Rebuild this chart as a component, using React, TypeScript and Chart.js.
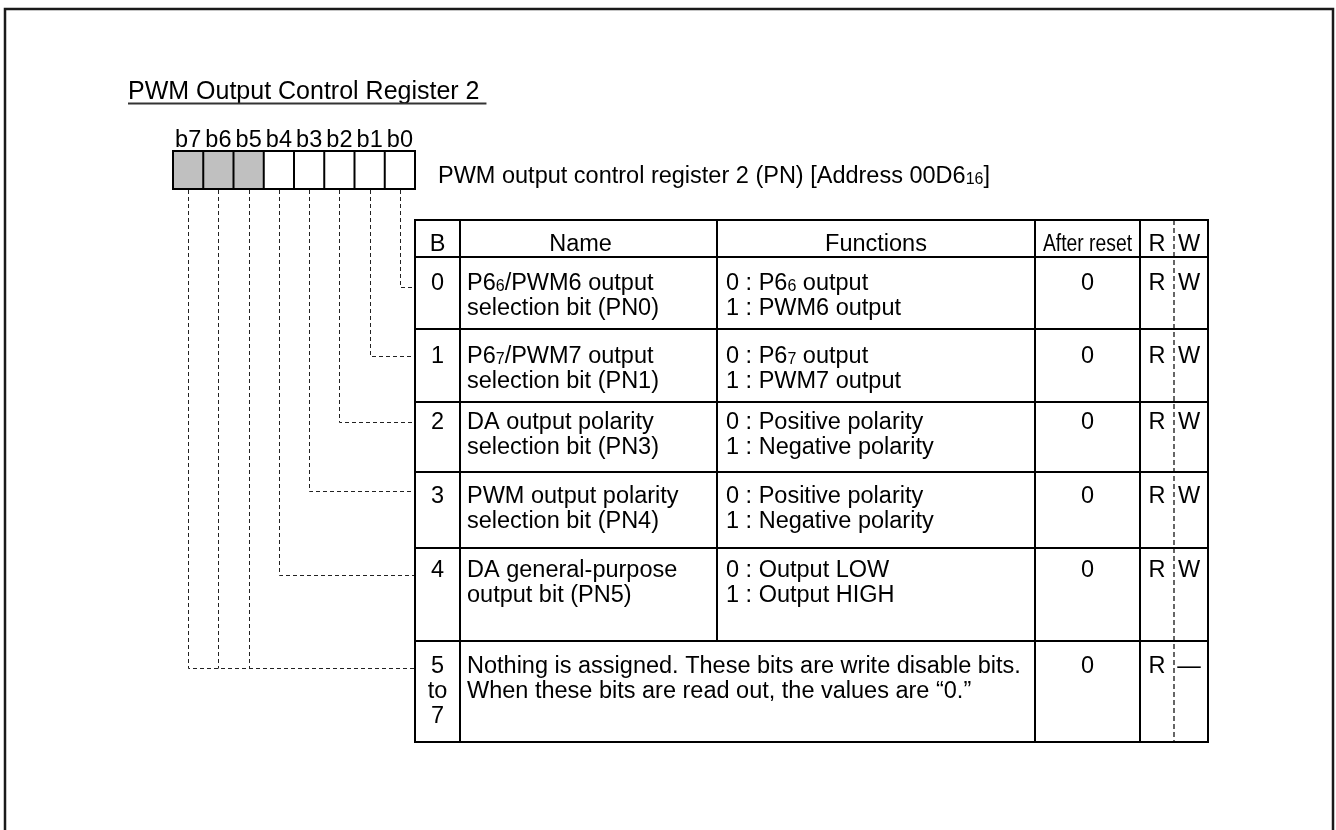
import React, { useEffect, useRef } from "react";
import { Chart, registerables } from "chart.js";

Chart.register(...registerables);

// ---------------- data ----------------
const TITLE = "PWM Output Control Register 2 ";
const REGISTER_CAPTION = "PWM output control register 2 (PN) [Address 00D6{16}]";
const BIT_LABELS = ["b7", "b6", "b5", "b4", "b3", "b2", "b1", "b0"];
const BIT_RESERVED = [true, true, true, false, false, false, false, false];
// table row that each bit's leader line points to
const BIT_ROW = [5, 5, 5, 4, 3, 2, 1, 0];
const HEADERS = ["B", "Name", "Functions", "After reset", "R", "W"];
const ROW_BITS = ["0", "1", "2", "3", "4", "5\nto\n7"];
const ROW_NAMES = [
  "P6{6}/PWM6 output\nselection bit (PN0)",
  "P6{7}/PWM7 output\nselection bit (PN1)",
  "DA output polarity\nselection bit (PN3)",
  "PWM output polarity\nselection bit (PN4)",
  "DA general-purpose\noutput bit (PN5)",
  "Nothing is assigned. These bits are write disable bits.\nWhen these bits are read out, the values are \u201c0.\u201d",
];
const ROW_FUNCTIONS = [
  "0 : P6{6} output\n1 : PWM6 output",
  "0 : P6{7} output\n1 : PWM7 output",
  "0 : Positive polarity\n1 : Negative polarity",
  "0 : Positive polarity\n1 : Negative polarity",
  "0 : Output LOW\n1 : Output HIGH",
  "",
];
const ROW_RESET = ["0", "0", "0", "0", "0", "0"];
const ROW_READ = ["R", "R", "R", "R", "R", "R"];
const ROW_WRITE = ["W", "W", "W", "W", "W", "\u2014"];

// ---------------- layout (page coordinates) ----------------
const W = 1336;
const H = 830;
const FONT = "'Liberation Sans', Arial, Helvetica, sans-serif";
const FRAME = { l: 5, t: 9, r: 1333, b: 900 };
const TITLE_POS = { x: 128, y: 99, size: 25, underline: 103.5 };
const BOX = { l: 173, t: 151, w: 30.25, h: 38 };
const BIT_LABEL_Y = 147;
const CAPTION_POS = { x: 438, y: 183 };
const COL_EDGES = [415, 460, 717, 1035, 1140, 1208];
const RW_SPLIT = 1174;
const ROW_EDGES = [220, 257, 329, 402, 472, 548, 641, 742];
const TEXT_SIZE = 23.5;
const LINE_H = 25;
const FIRST_BASE = [33, 34, 27, 31, 29, 32];
const LEADER_OFF = [30, 27, 20, 19, 27, 27];
const HEADER_BASE = 251;

const snap = (v: number) => Math.round(v) + 0.5;
const boxCenter = (i: number) => BOX.l + BOX.w * (i + 0.5);
const leaderY = (row: number) => ROW_EDGES[row + 1] + LEADER_OFF[row];

function leaderDatasets() {
  const sets: any[] = [];
  BIT_LABELS.forEach((_, i) => {
    const row = BIT_ROW[i];
    const x = snap(boxCenter(i));
    const y = snap(leaderY(row));
    const firstOfRow = BIT_ROW.indexOf(row) === i;
    const pts = [
      { x, y: BOX.t + BOX.h + 1 },
      { x, y },
    ];
    if (firstOfRow) pts.push({ x: COL_EDGES[0], y });
    sets.push({
      label: BIT_LABELS[i],
      data: pts,
      showLine: true,
      borderColor: "#222",
      borderWidth: 1,
      borderDash: [4, 3],
      pointRadius: 0,
      fill: false,
      tension: 0,
    });
  });
  return sets;
}

function drawRich(
  ctx: CanvasRenderingContext2D,
  text: string,
  x: number,
  y: number,
  size: number,
  align: "left" | "center"
) {
  const parts = text
    .split(/(\{[^}]*\})/)
    .filter((p) => p.length > 0)
    .map((p) => (p.startsWith("{") ? { t: p.slice(1, -1), sub: true } : { t: p, sub: false }));
  const fontFor = (sub: boolean) => `${sub ? Math.round(size * 0.68) : size}px ${FONT}`;
  let total = 0;
  parts.forEach((p) => {
    ctx.font = fontFor(p.sub);
    total += ctx.measureText(p.t).width;
  });
  let cx = align === "center" ? x - total / 2 : x;
  ctx.textAlign = "left";
  parts.forEach((p) => {
    ctx.font = fontFor(p.sub);
    ctx.fillText(p.t, cx, y + (p.sub ? 1 : 0));
    cx += ctx.measureText(p.t).width;
  });
}

const tablePlugin = {
  id: "registerTable",
  afterDatasetsDraw(chart: any) {
    const ctx: CanvasRenderingContext2D = chart.ctx;
    const xs = chart.scales.x;
    const ys = chart.scales.y;
    const px = (v: number) => xs.getPixelForValue(v);
    const py = (v: number) => ys.getPixelForValue(v);
    const line = (x1: number, y1: number, x2: number, y2: number) => {
      ctx.beginPath();
      ctx.moveTo(px(x1), py(y1));
      ctx.lineTo(px(x2), py(y2));
      ctx.stroke();
    };
    ctx.save();
    ctx.fillStyle = "#000";
    ctx.textBaseline = "alphabetic";

    // outer frame
    ctx.strokeStyle = "#1a1a1a";
    ctx.lineWidth = 2.5;
    ctx.beginPath();
    ctx.moveTo(px(FRAME.l), py(FRAME.b));
    ctx.lineTo(px(FRAME.l), py(FRAME.t));
    ctx.lineTo(px(FRAME.r), py(FRAME.t));
    ctx.lineTo(px(FRAME.r), py(FRAME.b));
    ctx.stroke();

    // title
    ctx.font = `${TITLE_POS.size}px ${FONT}`;
    ctx.textAlign = "left";
    ctx.fillText(TITLE, px(TITLE_POS.x), py(TITLE_POS.y));
    const tw = ctx.measureText(TITLE).width;
    ctx.strokeStyle = "#333";
    ctx.lineWidth = 2;
    line(TITLE_POS.x, TITLE_POS.underline, TITLE_POS.x + tw, TITLE_POS.underline);

    // bit boxes + labels
    BIT_LABELS.forEach((lab, i) => {
      const x0 = BOX.l + BOX.w * i;
      if (BIT_RESERVED[i]) {
        ctx.fillStyle = "#c0c0c0";
        ctx.fillRect(px(x0), py(BOX.t), px(x0 + BOX.w) - px(x0), py(BOX.t + BOX.h) - py(BOX.t));
      }
      ctx.fillStyle = "#000";
      ctx.font = `${TEXT_SIZE}px ${FONT}`;
      ctx.textAlign = "center";
      ctx.fillText(lab, px(boxCenter(i)), py(BIT_LABEL_Y), BOX.w - 2);
    });
    ctx.strokeStyle = "#000";
    ctx.lineWidth = 2;
    ctx.strokeRect(px(BOX.l), py(BOX.t), px(BOX.l + BOX.w * 8) - px(BOX.l), py(BOX.t + BOX.h) - py(BOX.t));
    for (let i = 1; i < 8; i++) line(BOX.l + BOX.w * i, BOX.t, BOX.l + BOX.w * i, BOX.t + BOX.h);

    // caption
    ctx.fillStyle = "#000";
    drawRich(ctx, REGISTER_CAPTION, px(CAPTION_POS.x), py(CAPTION_POS.y), TEXT_SIZE, "left");

    // table grid
    const top = ROW_EDGES[0];
    const bot = ROW_EDGES[ROW_EDGES.length - 1];
    ctx.strokeStyle = "#000";
    ctx.lineWidth = 2;
    ROW_EDGES.forEach((y) => line(COL_EDGES[0] - 1, y, COL_EDGES[COL_EDGES.length - 1] + 1, y));
    COL_EDGES.forEach((x, ci) => {
      if (ci === 2) line(x, top, x, ROW_EDGES[ROW_EDGES.length - 2]);
      else line(x, top, x, bot);
    });
    ctx.lineWidth = 1.2;
    ctx.setLineDash([5, 3]);
    line(RW_SPLIT, top, RW_SPLIT, bot);
    ctx.setLineDash([]);

    // header
    const cB = (COL_EDGES[0] + COL_EDGES[1]) / 2;
    const cName = (COL_EDGES[1] + COL_EDGES[2]) / 2 - 8;
    const cFun = (COL_EDGES[2] + COL_EDGES[3]) / 2;
    const cReset = (COL_EDGES[3] + COL_EDGES[4]) / 2;
    const cR = (COL_EDGES[4] + RW_SPLIT) / 2;
    const cW = (RW_SPLIT + COL_EDGES[5]) / 2 - 2;
    ctx.font = `${TEXT_SIZE}px ${FONT}`;
    ctx.textAlign = "center";
    ctx.fillText(HEADERS[0], px(cB), py(HEADER_BASE));
    ctx.fillText(HEADERS[1], px(cName), py(HEADER_BASE));
    ctx.fillText(HEADERS[2], px(cFun), py(HEADER_BASE));
    ctx.fillText(HEADERS[3], px(cReset), py(HEADER_BASE), COL_EDGES[4] - COL_EDGES[3] - 16);
    ctx.fillText(HEADERS[4], px(cR), py(HEADER_BASE));
    ctx.fillText(HEADERS[5], px(cW), py(HEADER_BASE));

    // rows
    ROW_BITS.forEach((b, r) => {
      const base = ROW_EDGES[r + 1] + FIRST_BASE[r];
      b.split("\n").forEach((t, k) => drawRich(ctx, t, px(cB), py(base + k * LINE_H), TEXT_SIZE, "center"));
      ROW_NAMES[r]
        .split("\n")
        .forEach((t, k) => drawRich(ctx, t, px(COL_EDGES[1] + 7), py(base + k * LINE_H), TEXT_SIZE, "left"));
      ROW_FUNCTIONS[r]
        .split("\n")
        .filter((t) => t.length)
        .forEach((t, k) => drawRich(ctx, t, px(COL_EDGES[2] + 9), py(base + k * LINE_H), TEXT_SIZE, "left"));
      drawRich(ctx, ROW_RESET[r], px(cReset), py(base), TEXT_SIZE, "center");
      drawRich(ctx, ROW_READ[r], px(cR), py(base), TEXT_SIZE, "center");
      drawRich(ctx, ROW_WRITE[r], px(cW), py(base), TEXT_SIZE, "center");
    });

    ctx.restore();
  },
};

export default function App() {
  const ref = useRef<HTMLCanvasElement>(null);
  useEffect(() => {
    if (!ref.current) return;
    const chart = new Chart(ref.current, {
      type: "scatter",
      data: { datasets: leaderDatasets() },
      options: {
        animation: false,
        responsive: false,
        devicePixelRatio: 1,
        events: [],
        layout: { padding: 0 },
        scales: {
          x: { type: "linear", min: 0, max: W, display: false },
          y: { type: "linear", min: 0, max: H, reverse: true, display: false },
        },
        plugins: {
          legend: { display: false },
          tooltip: { enabled: false },
          title: { display: false },
        },
      },
      plugins: [tablePlugin],
    } as any);
    return () => chart.destroy();
  }, []);
  return (
    <div style={{ position: "absolute", left: 0, top: 0, width: W, height: H, background: "#fff" }}>
      <canvas ref={ref} width={W} height={H} style={{ display: "block", width: W, height: H }} />
    </div>
  );
}
